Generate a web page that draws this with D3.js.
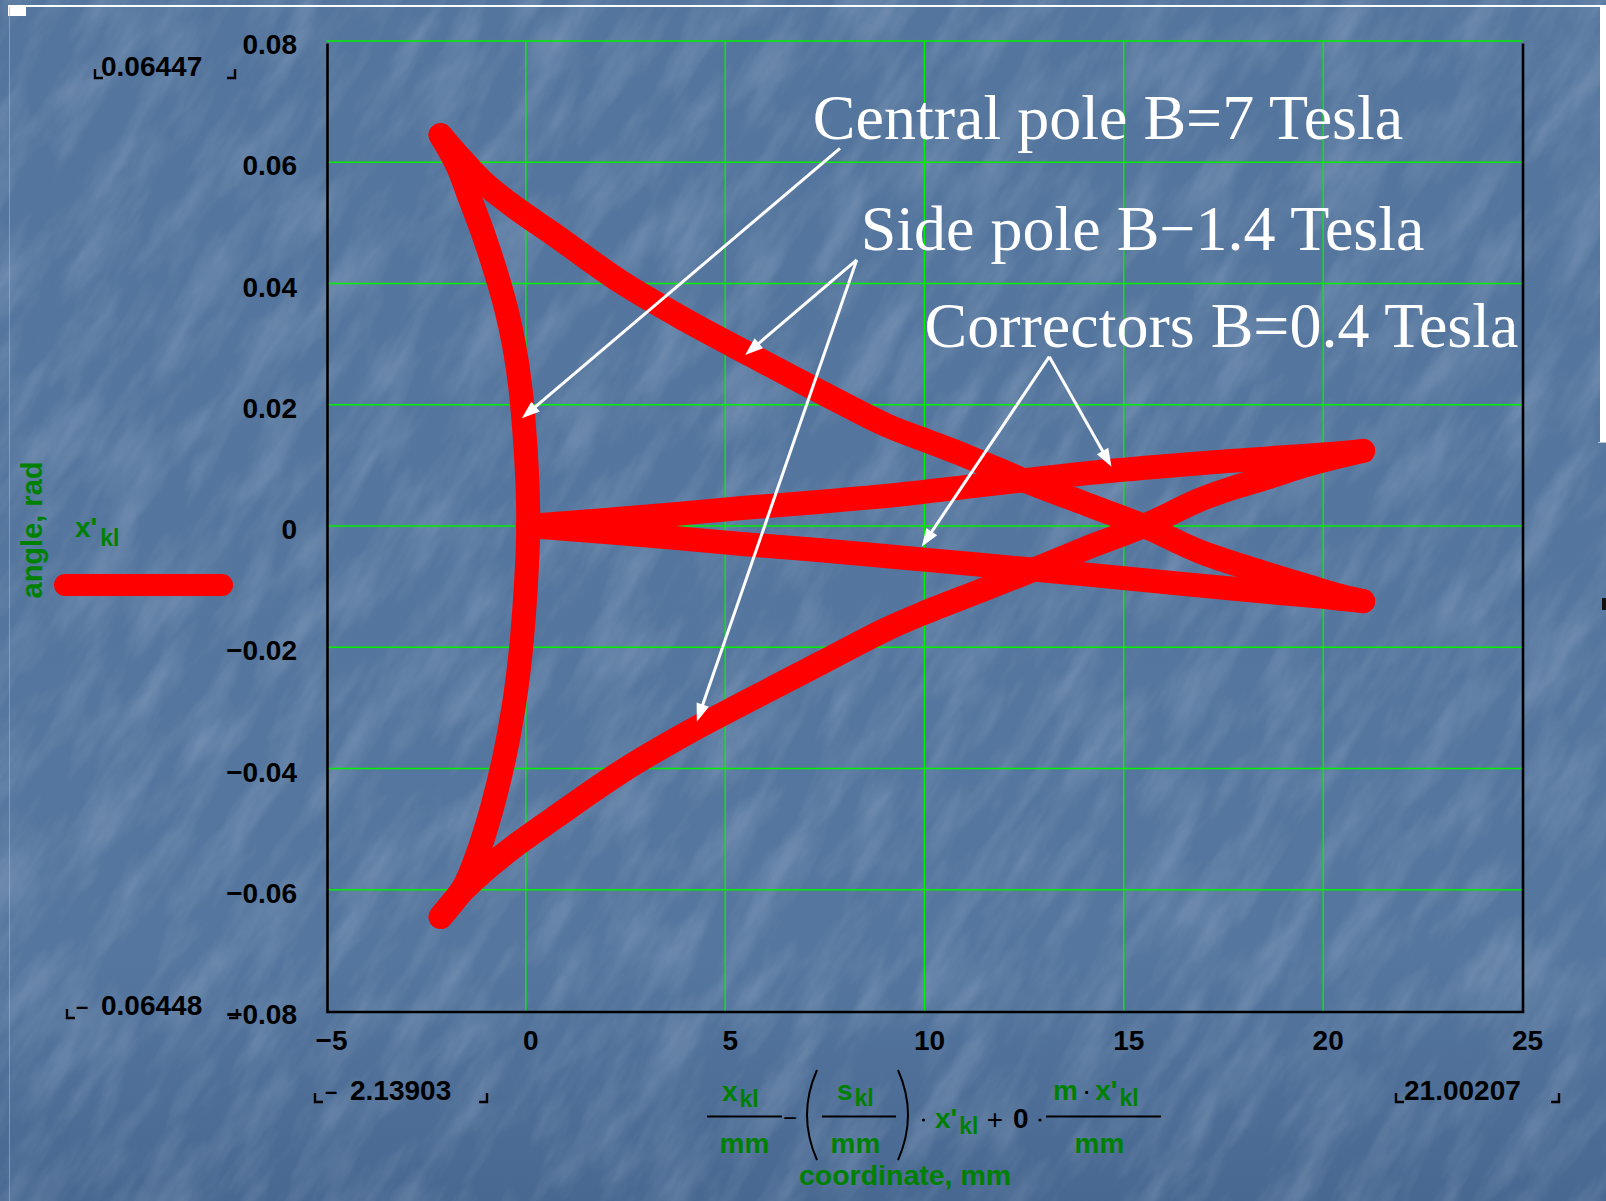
<!DOCTYPE html>
<html><head><meta charset="utf-8">
<script src="https://cdn.jsdelivr.net/npm/d3@7"></script>
<style>html,body{margin:0;padding:0;background:#5576a0;overflow:hidden}</style>
</head><body><svg id="c" width="1606" height="1201"></svg>
<script>
// ---------- data ----------
const xTicks = [-5, 0, 5, 10, 15, 20, 25];
const xTickLabels = ["\u22125", "0", "5", "10", "15", "20", "25"];
const yTicks = [0.08, 0.06, 0.04, 0.02, 0, -0.02, -0.04, -0.06, -0.08];
const yTickLabels = ["0.08", "0.06", "0.04", "0.02", "0", "\u22120.02", "\u22120.04", "\u22120.06", "\u22120.08"];
const rangeLabels = { yMax: "0.06447", yMin: "0.06448", xMin: "2.13903", xMax: "21.00207" };

// trajectory segments: [coordinate mm, angle rad]
const correctorRise = [[0.05,0],[2.0,0.0010],[3.8,0.0020],[5.5,0.0030],[7.4,0.0040],[9.4,0.0052],[11.0,0.0064],[12.7,0.0077],[14.2,0.0088],[15.7,0.0097],[17.2,0.0105],[18.7,0.0112],[20.0,0.0118],[21.002,0.0124]];
const sidePoleLower = [[21.002,0.0124],[20.3,0.0113],[19.4,0.0097],[18.6,0.0080],[17.7,0.0062],[16.9,0.0043],[15.5,0.0],[14.0,-0.0038],[12.7,-0.0073],[11.4,-0.0107],[10.0,-0.0143],[9.05,-0.0170],[7.4,-0.0226],[5.7,-0.0284],[4.0,-0.0343],[2.4,-0.0405],[0.7,-0.0482],[-0.2,-0.0524],[-1.0,-0.0566],[-1.6,-0.0603],[-2.139,-0.06448]];
const centralPole = [[-2.139,-0.06448],[-1.56,-0.0596],[-1.21,-0.0541],[-0.85,-0.0465],[-0.55,-0.0385],[-0.31,-0.0300],[-0.14,-0.0215],[-0.03,-0.0130],[0.04,-0.0050],[0.06,0.0],[0.04,0.0070],[-0.03,0.0150],[-0.14,0.0230],[-0.30,0.0300],[-0.50,0.0360],[-0.76,0.0420],[-1.06,0.0480],[-1.40,0.0540],[-1.72,0.0595],[-2.139,0.06447]];
const sidePoleUpper = [[-2.139,0.06447],[-1.6,0.0604],[-1.0,0.0563],[-0.2,0.0522],[0.7,0.0481],[2.4,0.0402],[4.0,0.0340],[5.7,0.0280],[7.4,0.0221],[9.05,0.0166],[10.0,0.0142],[11.06,0.0115],[12.7,0.0070],[14.1,0.0035],[15.5,0.0],[16.9,-0.0042],[18.6,-0.0079],[19.5,-0.0097],[20.3,-0.0113],[21.002,-0.0124]];
const correctorReturn = [[21.002,-0.0124],[20.0,-0.0117],[18.5,-0.0108],[16.4,-0.0095],[13.9,-0.0079],[11.4,-0.0064],[9.4,-0.0052],[7.4,-0.0040],[5.5,-0.0030],[3.8,-0.0020],[2.0,-0.0010],[0.05,0]];

// annotations (data coordinates)
const annotations = [
  { text: "Central pole B=7 Tesla", at: [7.20, 0.0638], arrows: [[[7.88, 0.0623], [-0.10, 0.01777]]] },
  { text: "Side pole B\u22121.4 Tesla", at: [8.40, 0.0455], arrows: [[[8.30, 0.04388], [5.50, 0.02821]], [[8.30, 0.04388], [4.29, -0.03228]]] },
  { text: "Correctors B=0.4 Tesla", at: [10.0, 0.0295], arrows: [[[13.13, 0.02793], [14.69, 0.00978]], [[13.13, 0.02793], [9.93, -0.00341]]] }
];

// ---------- drawing ----------
const svg = d3.select("#c");
const defs = svg.append("defs");
const GREEN = "#008000", GRID = "#00f000";
const SANS = "'Liberation Sans', Arial, sans-serif";
const SERIF = "'Liberation Serif', 'Times New Roman', serif";

const grad = defs.append("linearGradient").attr("id", "bg").attr("x1", 0).attr("y1", 0).attr("x2", 0).attr("y2", 1);
grad.append("stop").attr("offset", "0%").attr("stop-color", "#54759d");
grad.append("stop").attr("offset", "80%").attr("stop-color", "#55769e");
grad.append("stop").attr("offset", "100%").attr("stop-color", "#486891");

const f = defs.append("filter").attr("id", "tex").attr("x", 0).attr("y", 0).attr("width", "100%").attr("height", "100%");
f.append("feTurbulence").attr("type", "fractalNoise").attr("baseFrequency", "0.01 0.035").attr("numOctaves", 4).attr("seed", 11).attr("result", "n");
f.append("feColorMatrix").attr("in", "n").attr("type", "matrix")
  .attr("values", "0 0 0 0 0.85  0 0 0 0 0.9  0 0 0 0 1  0 0 0 1.4 -0.55");

svg.append("rect").attr("width", 1606).attr("height", 1201).attr("fill", "url(#bg)");
svg.append("g").attr("transform", "translate(803,600) rotate(-58)")
  .append("rect").attr("x", -1200).attr("y", -1200).attr("width", 2400).attr("height", 2400)
  .attr("filter", "url(#tex)").attr("opacity", 0.25);

// slide edge artefacts
svg.append("rect").attr("x", 8).attr("y", 5).attr("width", 1592).attr("height", 2).attr("fill", "#ffffff");
svg.append("rect").attr("x", 8).attr("y", 6).attr("width", 18).attr("height", 10).attr("fill", "#ffffff");
svg.append("rect").attr("x", 9).attr("y", 7).attr("width", 1).attr("height", 1194).attr("fill", "#9fb5cf").attr("opacity", 0.6);
svg.append("rect").attr("x", 1600).attr("y", 5).attr("width", 6).attr("height", 437).attr("fill", "#ffffff");
svg.append("rect").attr("x", 1598).attr("y", 442).attr("width", 8).attr("height", 1).attr("fill", "#b8c6d8");
svg.append("rect").attr("x", 1602).attr("y", 598).attr("width", 4).attr("height", 12).attr("fill", "#111");

const x = d3.scaleLinear().domain([-5, 25]).range([326.5, 1522.5]);
const y = d3.scaleLinear().domain([-0.08, 0.08]).range([1011, 41]);

// grid
const grid = svg.append("g");
grid.selectAll("line.vg").data(xTicks.slice(1, -1)).join("line").attr("class", "vg")
  .attr("x1", d => x(d)).attr("x2", d => x(d)).attr("y1", y(0.08)).attr("y2", y(-0.08))
  .attr("stroke", GRID).attr("stroke-width", 1.4);
grid.selectAll("line.hg").data(yTicks.slice(0, -1)).join("line").attr("class", "hg")
  .attr("x1", x(-5)).attr("x2", x(25)).attr("y1", d => y(d)).attr("y2", d => y(d))
  .attr("stroke", GRID).attr("stroke-width", 1.4);

// frame
svg.append("path")
  .attr("d", `M${x(-5) + 1},${y(0.08) + 2.5}V${y(-0.08) + 1}H${x(25) + 0.5}V${y(0.08) + 2.5}`)
  .attr("fill", "none").attr("stroke", "#000").attr("stroke-width", 2.6);

// y tick labels
svg.append("g").selectAll("text").data(yTicks).join("text")
  .attr("x", 297).attr("y", d => y(d) + 13).attr("text-anchor", "end")
  .attr("font-family", SANS).attr("font-weight", "bold").attr("font-size", 28).attr("fill", "#000")
  .text((d, i) => yTickLabels[i]);

// x tick labels
svg.append("g").selectAll("text").data(xTicks).join("text")
  .attr("x", d => x(d) + 5).attr("y", 1050).attr("text-anchor", "middle")
  .attr("font-family", SANS).attr("font-weight", "bold").attr("font-size", 28).attr("fill", "#000")
  .text((d, i) => xTickLabels[i]);

// range markers (Mathcad limits)
function txt(s, px, py, opts = {}) {
  return svg.append("text").attr("x", px).attr("y", py)
    .attr("font-family", opts.family || SANS).attr("font-weight", opts.weight || "bold")
    .attr("font-size", opts.size || 28).attr("fill", opts.fill || "#000")
    .attr("text-anchor", opts.anchor || "start").text(s);
}
function bracketL(px, py) { svg.append("path").attr("d", `M${px},${py - 9}V${py}H${px + 8}`).attr("fill", "none").attr("stroke", "#000").attr("stroke-width", 2.4); }
function bracketR(px, py) { svg.append("path").attr("d", `M${px - 8},${py}H${px}V${py - 9}`).attr("fill", "none").attr("stroke", "#000").attr("stroke-width", 2.4); }

bracketL(95, 78); txt(rangeLabels.yMax, 101, 76); bracketR(235, 78);
bracketL(67, 1018); txt("\u2013", 76, 1014, { size: 22 }); txt(rangeLabels.yMin, 101, 1015); bracketR(237, 1018);
bracketL(315, 1102); txt("\u2013", 325, 1099, { size: 22 }); txt(rangeLabels.xMin, 350, 1100); bracketR(487, 1102);
bracketL(1396, 1102); txt(rangeLabels.xMax, 1404, 1100); bracketR(1559, 1102);

// y axis title + legend
svg.append("text").attr("transform", "translate(42,530) rotate(-90)").attr("text-anchor", "middle")
  .attr("font-family", SANS).attr("font-weight", "bold").attr("font-size", 29).attr("fill", GREEN).text("angle, rad");
const lg = svg.append("text").attr("x", 75).attr("y", 537).attr("font-family", SANS).attr("font-weight", "bold").attr("fill", GREEN);
lg.append("tspan").attr("font-size", 28).text("x'");
lg.append("tspan").attr("font-size", 23).attr("dy", 9).attr("dx", 3).text("kl");
svg.append("line").attr("x1", 65).attr("x2", 222).attr("y1", 585).attr("y2", 585)
  .attr("stroke", "#ff0000").attr("stroke-width", 22).attr("stroke-linecap", "round");

// x axis expression
function sub(base, s, px, py, anchor) {
  const t = svg.append("text").attr("x", px).attr("y", py).attr("font-family", SANS).attr("font-weight", "bold")
    .attr("fill", GREEN).attr("text-anchor", anchor || "start");
  t.append("tspan").attr("font-size", 28).text(base);
  t.append("tspan").attr("font-size", 23).attr("dy", 6).attr("dx", 2).text(s);
  return t;
}
function hline(x1, x2, py) { svg.append("line").attr("x1", x1).attr("x2", x2).attr("y1", py).attr("y2", py).attr("stroke", "#000").attr("stroke-width", 2); }
sub("x", "kl", 722, 1101);
hline(707, 782, 1116.5);
txt("mm", 744.5, 1153, { fill: GREEN, anchor: "middle" });
txt("\u2212", 790, 1126, { weight: "normal", size: 24, anchor: "middle" });
svg.append("path").attr("d", "M817,1070 Q797,1115 817,1160").attr("fill", "none").attr("stroke", "#000").attr("stroke-width", 2);
sub("s", "kl", 837, 1100);
hline(822, 896, 1116.5);
txt("mm", 855.5, 1153, { fill: GREEN, anchor: "middle" });
svg.append("path").attr("d", "M898,1070 Q918,1115 898,1160").attr("fill", "none").attr("stroke", "#000").attr("stroke-width", 2);
svg.append("circle").attr("cx", 923.5).attr("cy", 1120).attr("r", 1.6).attr("fill", "#000");
sub("x'", "kl", 935, 1128);
txt("+", 995, 1129, { weight: "normal", size: 28, anchor: "middle" });
txt("0", 1013, 1128);
svg.append("circle").attr("cx", 1040).attr("cy", 1120).attr("r", 1.6).attr("fill", "#000");
hline(1046, 1161, 1116.5);
{
  const t = svg.append("text").attr("x", 1053).attr("y", 1100).attr("font-family", SANS).attr("font-weight", "bold").attr("fill", GREEN);
  t.append("tspan").attr("font-size", 28).text("m");
  t.append("tspan").attr("font-size", 28).attr("font-weight", "normal").attr("fill", "#000").attr("dx", 4).text("\u00b7");
  t.append("tspan").attr("font-size", 28).attr("dx", 4).text("x'");
  t.append("tspan").attr("font-size", 23).attr("dy", 6).attr("dx", 2).text("kl");
}
txt("mm", 1099.5, 1153, { fill: GREEN, anchor: "middle" });
txt("coordinate, mm", 905, 1185, { fill: GREEN, anchor: "middle", size: 28.5 });

// trajectory (one path per field region, smoothed through the read points)
const segments = [correctorRise, sidePoleLower, centralPole, sidePoleUpper, correctorReturn];
const line = d3.line().x(d => x(d[0])).y(d => y(d[1])).curve(d3.curveCatmullRom.alpha(0.5));
svg.append("g").selectAll("path").data(segments).join("path").attr("d", line)
  .attr("fill", "none").attr("stroke", "#ff0000").attr("stroke-width", 24)
  .attr("stroke-linecap", "round").attr("stroke-linejoin", "round");

// annotations
const ann = svg.append("g");
annotations.forEach(a => {
  ann.append("text").attr("x", x(a.at[0])).attr("y", y(a.at[1]))
    .attr("font-family", SERIF).attr("font-size", 64).attr("fill", "#fff").text(a.text);
  a.arrows.forEach(([s, e]) => {
    const x0 = x(s[0]), y0 = y(s[1]), x1 = x(e[0]), y1 = y(e[1]);
    const dx = x1 - x0, dy = y1 - y0, L = Math.hypot(dx, dy), ux = dx / L, uy = dy / L;
    const hl = 18, hw = 6.5;
    ann.append("line").attr("x1", x0).attr("y1", y0).attr("x2", x1 - ux * hl * 0.7).attr("y2", y1 - uy * hl * 0.7)
      .attr("stroke", "#fff").attr("stroke-width", 3);
    const bx = x1 - ux * hl, by = y1 - uy * hl;
    ann.append("path").attr("d", `M${x1},${y1}L${bx - uy * hw},${by + ux * hw}L${bx + uy * hw},${by - ux * hw}Z`).attr("fill", "#fff");
  });
});
</script></body></html>
